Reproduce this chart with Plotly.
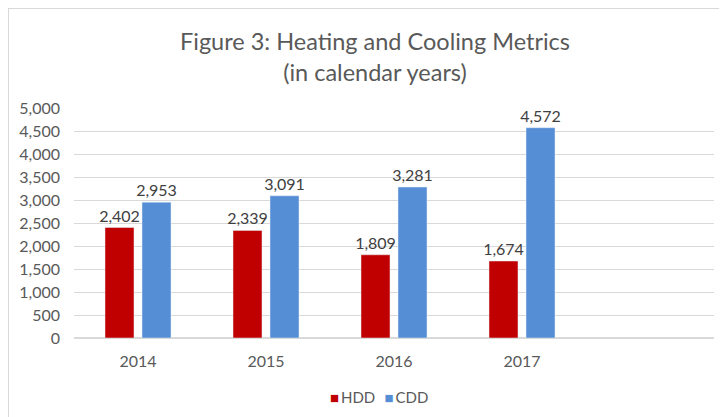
import plotly.graph_objects as go

years = ["2014", "2015", "2016", "2017", " "]
hdd = [2402, 2339, 1809, 1674, None]
cdd = [2953, 3091, 3281, 4572, None]
series_names = ["HDD", "CDD"]
series_colors = ["#C00000", "#558ED5"]

def fmt(v):
    return "" if v is None else f"{v:,}"

W, H = 727, 417
ml, mr, mt, mb = 66, 21, 100, 87
pw, ph = W - ml - mr, H - mt - mb

FONT = "Lato, Open Sans, sans-serif"

fig = go.Figure()
for name, vals, col in zip(series_names, [hdd, cdd], series_colors):
    fig.add_trace(go.Bar(name=name, x=years, y=vals, marker_color=col,
                         text=[fmt(v) for v in vals], textposition="outside", constraintext="none",
                         textfont=dict(color="#404040", size=16), cliponaxis=False,
                         showlegend=False))

def px_x(p):
    return (p - ml) / pw
def px_y(p):
    return (H - mb - p) / ph

legend_text = "\u2002\u2009".join(
    f"<span style='color:{c}'>■</span>\u2009<span style='color:#595959'>{n}</span>"
    for n, c in zip(series_names, series_colors))

fig.update_layout(
    width=W, height=H,
    margin=dict(l=ml, r=mr, t=mt, b=mb, autoexpand=False),
    paper_bgcolor="white", plot_bgcolor="white",
    font=dict(family=FONT, color="#595959"),
    title=dict(text="Figure 3: Heating and Cooling Metrics<br>(in calendar years)",
               x=367 / W, xanchor="center", xref="container", y=1 - 42/H, yanchor="middle",
               font=dict(size=23.5, color="#595959", family=FONT)),
    barmode="group", bargap=0.422, bargroupgap=0.216,
    showlegend=False,
    annotations=[dict(text=legend_text, xref="paper", yref="paper",
                      x=px_x(371), y=px_y(389), xanchor="center", yanchor="middle",
                      showarrow=False, font=dict(size=15, family=FONT, color="#595959"))],
    xaxis=dict(showgrid=False, showline=False, ticks="", automargin=False,
               tickfont=dict(size=16, color="#595959"), ticklabelstandoff=12),
    yaxis=dict(range=[0, 5000], dtick=500, tickformat=",d", showgrid=True, gridcolor="#D9D9D9",
               gridwidth=1, zeroline=True, zerolinecolor="#D9D9D9", showline=False, ticks="",
               automargin=False, tickfont=dict(size=16, color="#595959"), ticklabelstandoff=13),
    shapes=[dict(type="rect", xref="paper", yref="paper",
                 x0=px_x(0), x1=px_x(760), y0=px_y(440), y1=px_y(0),
                 line=dict(color="#D9D9D9", width=2), fillcolor="rgba(0,0,0,0)", layer="below")],
)
fig.update_traces(textangle=0)
fig.write_html("out.html")
